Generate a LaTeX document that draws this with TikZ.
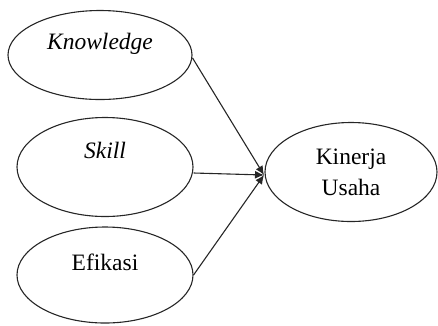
\documentclass[tikz,border=0pt]{standalone}
\usepackage{fontspec}
\setmainfont{Liberation Serif}
\usetikzlibrary{shapes.geometric,arrows.meta}
\begin{document}
\begin{tikzpicture}[x=1pt,y=-1pt,
  oval/.style={draw=black!85, line width=1.1pt, ellipse, inner sep=0pt,
    minimum width=#1, font=\fontsize{23.5}{31}\selectfont},
  oval/.default=176pt,
  conn/.style={draw=black!85, line width=1.1pt, -{Latex[length=9pt,width=8pt]}}]
\useasboundingbox (0,0) rectangle (438,325);
\node[oval=184pt, minimum height=89pt] (k) at (100,55) {\raisebox{6pt}[0pt][0pt]{\itshape Knowledge}};
\node[oval, minimum height=99pt] (s) at (105,167) {\raisebox{9pt}[0pt][0pt]{\itshape Skill}};
\node[oval, minimum height=96pt] (e) at (105,275) {\raisebox{5pt}[0pt][0pt]{Efikasi}};
\node[oval=172pt, minimum height=99pt, align=center] (u) at (351,172) {Kinerja\\Usaha};
\coordinate (tip) at (264,175);
\draw[conn] ([yshift=-3pt]k.east) -- (tip);
\draw[conn] ([yshift=-6pt]s.east) -- (tip);
\draw[conn] (e.east) -- (tip);
\end{tikzpicture}
\end{document}
